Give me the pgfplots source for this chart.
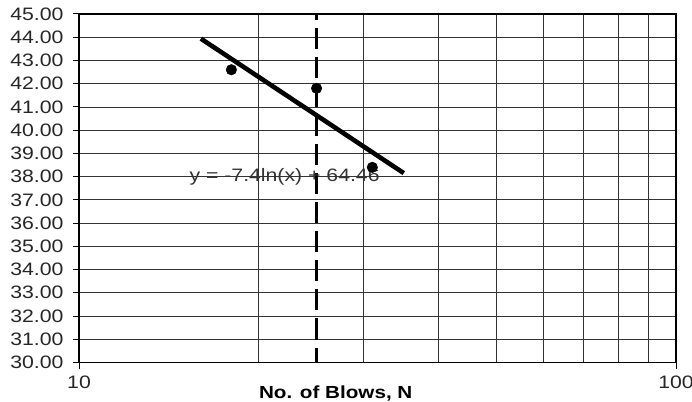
\documentclass[border=0pt]{standalone}
\usepackage{pgfplots}
\pgfplotsset{compat=1.18}
\usepackage{fontspec}
\setmainfont{Liberation Sans}[FakeStretch=1.18]
\begin{document}
\begin{tikzpicture}
\useasboundingbox (-79pt,-38.5pt) rectangle (613pt,362.5pt);
\clip (-79pt,-38.5pt) rectangle (613pt,362.5pt);
\begin{axis}[
  at={(0pt,0pt)}, anchor=south west,
  scale only axis, width=597pt, height=348.5pt,
  xmode=log, xmin=10, xmax=100, ymin=30, ymax=45,
  log basis x=10,
  xtick={10,100}, xticklabels={10,100},
  minor xtick={20,30,40,50,60,70,80,90},
  ytick={30,31,...,45},
  xminorgrids=true, ymajorgrids=true,
  grid style={black!80, line width=0.8pt},
  minor grid style={black!80, line width=0.8pt},
  axis line style={line width=1.8pt, black},
  tick style={black, line width=1pt},
  major tick length=6pt, minor tick length=0pt,
  tick align=outside, xtick pos=bottom, ytick pos=left,
  yticklabel={\pgfmathprintnumber[fixed,fixed zerofill,precision=2,assume math mode=true]{\tick}},
  ticklabel style={font=\fontsize{18}{20}\selectfont, text=black!85},
  xticklabel style={yshift=-4pt},
  yticklabel style={xshift=-6pt},
  xlabel={\textbf{No. of Blows, N}},
  xlabel style={font=\fontsize{17.5}{19}\selectfont, at={(axis description cs:0.43,0)}, anchor=north, yshift=-20pt},
  clip=false,
]
\addplot[black, line width=3pt, dash pattern=on 21pt off 8pt, dash phase=6pt] coordinates {(25,30) (25,45)};
\addplot[black, line width=4.6pt] coordinates {(16,43.94) (35,38.15)};
\addplot[only marks, mark=*, mark size=5.3pt, black] coordinates {(18,42.6) (25,41.8) (31,38.4)};
\node[anchor=base, text=black!80, font=\fontsize{18}{20}\selectfont, inner sep=0pt] at (axis cs:22.1,37.78) {y = -7.4ln(x) + 64.46};
\end{axis}
\end{tikzpicture}
\end{document}
